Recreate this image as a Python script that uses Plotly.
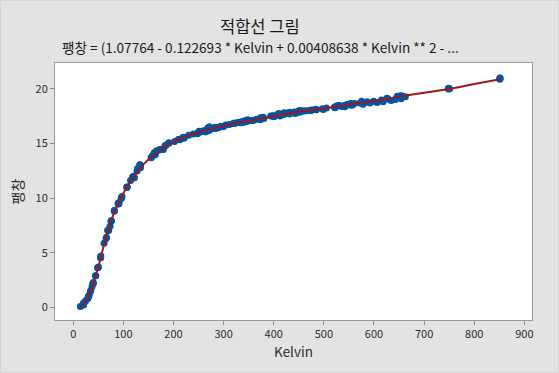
import plotly.graph_objects as go

kelvin = [24.41, 34.82, 44.09, 45.07, 54.98, 65.51, 70.53, 75.70, 89.57, 91.14, 96.40, 97.19,
          114.26, 120.25, 127.08, 133.55, 133.61, 158.67, 172.74, 171.31, 202.14, 220.55, 221.05,
          221.39, 250.99, 268.99, 271.80, 271.97, 321.31, 321.69, 330.14, 333.03, 333.47, 340.77,
          345.65, 373.11, 373.79, 411.82, 419.51, 421.59, 422.02, 422.47, 422.61, 441.75, 447.41,
          448.70, 472.89, 476.69, 522.47, 522.62, 524.43, 546.75, 549.53, 575.29, 576.00, 625.55,
          20.15, 28.78, 29.57, 37.41, 39.12, 50.24, 61.38, 66.25, 73.42, 95.52, 107.32, 122.04,
          134.03, 163.19, 163.48, 175.70, 179.86, 211.27, 217.78, 219.14, 262.52, 268.01, 268.62,
          336.25, 337.23, 339.33, 427.38, 428.58, 432.68, 528.99, 531.08, 628.34, 253.24, 273.13,
          273.66, 282.10, 346.62, 347.19, 348.78, 351.18, 450.10, 450.35, 451.92, 455.56, 552.22,
          553.56, 555.74, 652.59, 656.20, 14.13, 20.41, 31.30, 33.84, 39.70, 48.83, 54.50, 68.86,
          75.25, 81.78, 90.75, 107.41, 118.40, 128.97, 132.51, 155.84, 161.25, 165.48, 182.95,
          190.60, 209.56, 212.66, 230.22, 249.82, 258.70, 261.65, 267.62, 282.77, 283.59, 294.03,
          304.00, 319.62, 355.58, 358.98, 365.70, 379.00, 393.93, 397.07, 399.69, 407.63, 409.81,
          420.14, 430.46, 441.74, 449.46, 460.18, 472.87, 483.23, 483.77, 496.86, 520.94, 530.47,
          541.84, 560.95, 572.04, 586.36, 599.30, 614.86, 625.82, 646.33, 656.47, 748.31, 748.65,
          750.95, 851.18, 851.29, 851.64, 20.32, 21.27, 30.95, 30.88, 40.03, 48.73, 54.46, 69.07,
          75.93, 82.01, 89.50, 106.70, 118.47, 128.20, 133.20, 155.34, 162.32, 165.72, 184.81,
          190.71, 212.33, 211.95, 239.37, 247.44, 259.00, 264.27, 272.26, 285.43, 289.59, 299.33,
          311.26, 327.69, 339.49, 346.10, 357.99, 373.22, 380.30, 400.51, 412.34, 418.15, 431.37,
          442.73, 451.48, 456.40, 464.54, 473.63, 485.24, 498.85, 505.06, 535.51, 541.78, 556.47,
          578.33, 591.77, 606.28, 618.02, 634.49, 642.73, 654.12, 662.65]
expansion = [0.591, 1.547, 2.902, 2.894, 4.703, 6.307, 7.030, 7.898, 9.470, 9.484, 10.072, 10.163,
             11.615, 12.005, 12.478, 12.982, 12.970, 13.926, 14.452, 14.404, 15.190, 15.550, 15.528,
             15.499, 16.131, 16.438, 16.387, 16.549, 16.872, 16.830, 16.926, 16.907, 16.966, 17.060,
             17.122, 17.311, 17.355, 17.668, 17.767, 17.803, 17.765, 17.768, 17.736, 17.858, 17.877,
             17.912, 18.046, 18.085, 18.291, 18.357, 18.426, 18.584, 18.610, 18.870, 18.795, 19.111,
             0.367, 0.796, 0.892, 1.903, 2.150, 3.697, 5.870, 6.421, 7.422, 9.944, 11.023, 11.870,
             12.786, 14.067, 13.974, 14.462, 14.464, 15.381, 15.483, 15.590, 16.075, 16.347, 16.181,
             16.915, 17.003, 16.978, 17.756, 17.808, 17.868, 18.481, 18.486, 19.090, 16.062, 16.337,
             16.345, 16.388, 17.159, 17.116, 17.164, 17.123, 17.979, 17.974, 18.007, 17.993, 18.523,
             18.669, 18.617, 19.371, 19.330, 0.080, 0.248, 1.089, 1.418, 2.278, 3.624, 4.574, 7.071,
             7.888, 8.803, 9.581, 11.020, 11.924, 12.744, 13.034, 13.738, 14.132, 14.289, 14.809,
             15.074, 15.367, 15.384, 15.764, 16.016, 16.147, 16.144, 16.262, 16.502, 16.475, 16.586,
             16.712, 16.850, 17.114, 17.116, 17.228, 17.407, 17.523, 17.519, 17.553, 17.660, 17.760,
             17.801, 17.856, 17.887, 17.969, 17.989, 18.045, 18.106, 18.143, 18.200, 18.338, 18.482,
             18.517, 18.673, 18.724, 18.822, 18.883, 18.980, 19.143, 19.328, 19.363, 20.009, 20.072,
             20.023, 20.881, 20.998, 20.984, 0.209, 0.363, 1.036, 1.049, 2.212, 3.622, 4.542, 7.038,
             7.930, 8.889, 9.544, 10.980, 11.885, 12.691, 13.066, 13.709, 14.153, 14.315, 14.835,
             15.026, 15.389, 15.361, 15.870, 15.903, 16.139, 16.083, 16.249, 16.407, 16.453, 16.551,
             16.749, 16.932, 16.956, 17.022, 17.133, 17.176, 17.291, 17.464, 17.519, 17.630, 17.705,
             17.755, 17.876, 17.981, 18.001, 18.018, 18.090, 18.132, 18.254, 18.394, 18.383, 18.516,
             18.609, 18.725, 18.769, 18.822, 18.934, 19.047, 19.112, 19.279]

# Fitted line values
fit_kelvin = [14.13, 20, 25, 30, 35, 40, 45, 50, 55, 60, 65, 70, 75, 80, 90, 100, 110, 120, 130,
              140, 150, 160, 175, 190, 210, 230, 250, 270, 300, 330, 360, 400, 440, 480, 520, 560,
              600, 650, 700, 750, 800, 851.64]
fit_expansion = [0.16, 0.28, 0.6, 0.98, 1.55, 2.2, 2.95, 3.7, 4.6, 5.5, 6.3, 7.05, 7.8, 8.5, 9.55,
                 10.45, 11.25, 11.9, 12.6, 13.1, 13.55, 13.95, 14.45, 14.95, 15.35, 15.75, 16.02,
                 16.3, 16.62, 16.9, 17.15, 17.5, 17.85, 18.1, 18.35, 18.65, 18.9, 19.3, 19.65,
                 20.0, 20.45, 20.9]

x_ticks = [0, 100, 200, 300, 400, 500, 600, 700, 800, 900]
y_ticks = [0, 5, 10, 15, 20]

title_text = "적합선 그림"
subtitle_text = "팽창 = (1.07764 - 0.122693 * Kelvin + 0.00408638 * Kelvin ** 2 - ..."

KFONT = "Noto Sans CJK KR"
TXT = "#2b2b2b"

fig = go.Figure()
fig.add_trace(go.Scatter(x=kelvin, y=expansion, mode="markers",
                         marker=dict(color="#0055A5", size=7, line=dict(width=0)),
                         showlegend=False))
fig.add_trace(go.Scatter(x=fit_kelvin, y=fit_expansion, mode="lines",
                         line=dict(color="#9B1B1B", width=2, shape="spline"),
                         showlegend=False))

fig.update_layout(
    width=559, height=373,
    margin=dict(l=55, r=27, t=63, b=53),
    paper_bgcolor="#E3E3E3", plot_bgcolor="white",
    font=dict(family=KFONT, color=TXT, size=11),
    xaxis=dict(range=[-36.5, 915.3], tickvals=x_ticks, ticks="outside", ticklen=4,
               tickcolor="#8a8a8a", showgrid=False, zeroline=False, showline=True,
               linecolor="#9a9a9a", linewidth=1, mirror=True,
               tickfont=dict(size=11, color=TXT),
               title=dict(text="Kelvin", font=dict(size=13.5, color=TXT), standoff=6)),
    yaxis=dict(range=[-1.16, 22.38], tickvals=y_ticks, ticks="outside", ticklen=4,
               tickcolor="#8a8a8a", showgrid=False, zeroline=False, showline=True,
               linecolor="#9a9a9a", linewidth=1, mirror=True,
               tickfont=dict(size=11, color=TXT),
               title=dict(text="팽창", font=dict(size=14, color=TXT), standoff=8)),
    annotations=[
        dict(text=title_text, xref="paper", yref="paper", x=0.43, y=1.0 + (63 - 26) / 257,
             xanchor="center", yanchor="middle", showarrow=False,
             font=dict(size=16.5, color="#1a1a1a", family=KFONT)),
        dict(text=subtitle_text, xref="paper", yref="paper", x=0.43, y=1.0 + (63 - 46.5) / 257,
             xanchor="center", yanchor="middle", showarrow=False,
             font=dict(size=13.6, color="#1a1a1a", family=KFONT)),
    ],
    shapes=[dict(type="rect", xref="paper", yref="paper", x0=-55 / 476.7, x1=1 + 27 / 476.7,
                 y0=-53 / 257, y1=1 + 63 / 257, line=dict(color="#C8C8C8", width=1))],
)

fig.write_html("out.html", config={"displayModeBar": False},
               post_script="document.body.style.margin='0px';")
